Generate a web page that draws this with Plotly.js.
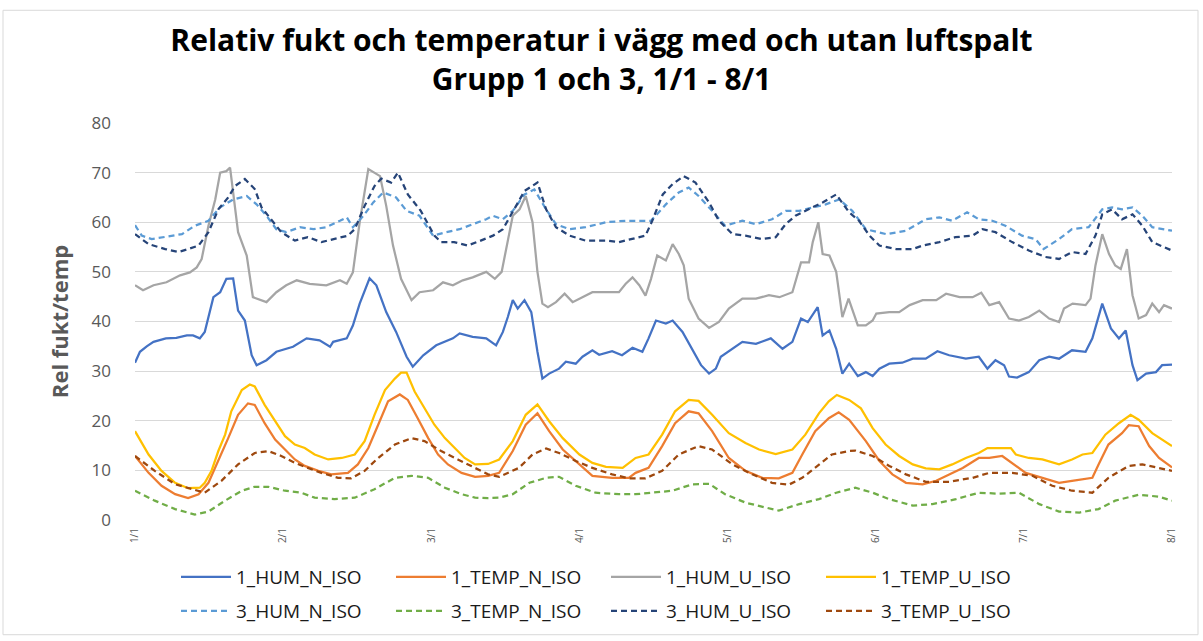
<!DOCTYPE html>
<html>
<head>
<meta charset="utf-8">
<script src="https://cdn.plot.ly/plotly-3.0.1.min.js"></script>
<style>
  html, body { margin: 0; padding: 0; background: #fff; }
  #chart { width: 1203px; height: 641px; }
</style>
</head>
<body>
<div id="chart"></div>
<script>
// x = hours since 1/1 00:00, y = value
const HUM_1_N = [[0,31.7],[0.8,33.9],[1.9,35],[3,35.9],[5,36.6],[6.7,36.7],[8.4,37.2],[9.4,37.2],[10.5,36.6],[11.3,37.9],[12.7,44.9],[13.8,45.9],[14.8,48.6],[15.9,48.7],[16.7,42.2],[17.8,40.2],[18.9,33.2],[19.7,31.2],[21.3,32.2],[22.9,33.9],[25.6,34.9],[27.8,36.6],[29.9,36.2],[31.6,34.9],[32.1,35.9],[34.3,36.6],[35.3,39.2],[36.4,43.6],[38,48.7],[39.1,47.3],[40.7,41.9],[42.3,37.9],[44,32.9],[45,30.9],[46.7,33.2],[48.8,35.2],[51.5,36.6],[52.6,37.6],[54.7,36.9],[56.9,36.6],[58.5,35.2],[59.6,37.9],[60.4,40.9],[61.2,44.3],[62,42.6],[63.1,44.3],[64.2,41.9],[65.2,33.9],[66,28.5],[67.1,29.5],[68.7,30.5],[69.8,31.9],[71.4,31.5],[72.5,32.9],[74.1,34.2],[75.2,33.3],[77.3,34],[78.9,33.2],[80.6,34.7],[82.2,33.9],[83.2,36.6],[84.4,40.2],[86,39.6],[87.1,40.2],[88.7,37.9],[90.3,34.2],[91.7,31.2],[93,29.5],[94.1,30.5],[94.9,32.9],[96.8,34.5],[98.4,35.9],[100.6,35.5],[103,36.6],[104.9,34.5],[106.5,35.9],[107.9,40.6],[109,39.9],[110.6,42.9],[111.4,37.2],[112.5,38.2],[113.6,34.5],[114.6,29.5],[115.7,31.5],[117.1,29],[118.4,29.8],[119.5,29],[120.6,30.5],[122.2,31.5],[124.3,31.7],[126,32.5],[128.1,32.5],[130,34],[131.9,33.2],[134.6,32.5],[136.7,32.9],[138.1,30.5],[139.4,32.2],[140.8,31.2],[141.6,28.9],[142.9,28.7],[144.8,29.8],[146.5,32.2],[148.1,32.9],[149.7,32.5],[151.8,34.2],[154,33.9],[155.1,36.6],[156.7,43.6],[158.1,38.6],[159.4,36.6],[160.5,38.2],[161.6,31.2],[162.4,28.2],[163.8,29.5],[165.4,29.8],[166.4,31.2],[168,31.3]];

const TEMP_1_N = [[0,12.9],[2.2,9.5],[4.3,6.9],[6.5,5.2],[8.6,4.4],[10.3,5.2],[11.9,7.5],[13.5,11.9],[15.1,16.5],[16.7,21.2],[18.3,23.5],[19.4,23.2],[21,19.5],[22.7,16.2],[24.3,14.2],[25.9,12.2],[27.5,10.9],[29.7,9.9],[31.8,9.2],[34.5,9.5],[36.1,11.2],[37.8,14.5],[39.4,19.2],[41,23.9],[42.9,25.3],[44.2,24.2],[45.8,20.5],[47.5,16.5],[49.1,13.2],[50.7,11.2],[52.9,9.5],[55.1,8.7],[57.2,8.9],[59,9.5],[61.2,13.9],[63.3,19.2],[65.2,21.5],[67.1,17.9],[69.3,14.2],[72,11.2],[74.1,8.9],[77.3,8.5],[80,8.5],[81.1,9.5],[83.2,10.5],[85.4,14.9],[87.5,19.5],[89.7,21.9],[91.3,21.5],[93.5,17.9],[96.2,12.5],[98.9,9.9],[101.6,8.5],[104.3,8.4],[106.5,9.5],[108.1,13.2],[110.2,17.9],[112.4,20.5],[114,21.7],[115.7,20.2],[118.4,15.9],[120.6,11.9],[122.7,9.2],[124.9,7.5],[127.6,7.2],[129.8,7.9],[131.4,8.9],[134.1,10.5],[136.7,12.5],[138.4,12.5],[140.5,12.9],[142.1,11.5],[144.3,9.5],[147,8.5],[149.7,7.5],[151.8,7.9],[155.1,8.5],[156.1,11.2],[157.7,15.2],[159.9,17.5],[161,19.1],[162.6,18.9],[164.3,14.9],[165.9,12.5],[168,10.6]];

const HUM_1_U = [[0,47.3],[1.3,46.3],[3,47.3],[5.1,47.9],[7.3,49.3],[8.9,49.9],[10,50.9],[10.8,52.6],[11.9,59.3],[13,64.6],[13.8,70],[14.8,70.3],[15.4,71],[16.2,63.3],[16.7,58],[18.1,53.3],[19.1,44.9],[21.3,43.9],[22.9,45.9],[24.5,47.3],[26.2,48.3],[28.3,47.6],[31,47.3],[33.2,48.3],[34.3,47.6],[35.3,49.9],[36.4,60],[37.8,70.7],[39.7,69.3],[40.7,63.3],[41.8,55.3],[43.1,48.6],[44.8,44.3],[46.1,45.9],[48.3,46.3],[49.9,47.9],[51.5,47.3],[53.1,48.3],[54.7,48.9],[56.9,50],[58.3,48.6],[59.4,50],[60.4,56.6],[61.2,61.3],[62.3,62.6],[63.3,65.3],[64.4,60],[65.2,50],[66,43.6],[66.9,42.9],[68.2,43.9],[69.6,45.6],[70.9,43.9],[72,44.6],[74.1,45.9],[76.3,45.9],[78.4,45.9],[79.5,47.6],[80.6,48.9],[81.7,47.3],[82.7,45.2],[83.6,48.6],[84.6,53.3],[86,52.3],[87.1,55.6],[88.1,53.6],[88.9,51.3],[89.7,44.6],[91.3,40.6],[93,38.7],[94.6,39.9],[96.2,42.6],[98.4,44.6],[100.6,44.6],[102.7,45.3],[104.4,44.9],[106.5,45.9],[107.9,51.9],[109.2,51.9],[109.8,56],[110.7,60],[111.4,53.6],[112.5,53.3],[113.6,50],[114.6,40.9],[115.6,44.6],[117.1,39.2],[118.4,39.2],[119.5,40.2],[120.1,41.6],[122.2,41.9],[123.8,41.9],[125.5,43.3],[127.6,44.3],[129.8,44.3],[131.4,45.6],[133.6,44.9],[135.7,44.9],[137.1,45.8],[138.4,43.3],[140,43.9],[141.6,40.6],[143.2,40.2],[144.8,40.9],[146.5,42.2],[148.1,40.6],[149.7,39.9],[150.5,42.6],[151.9,43.6],[154,43.3],[154.8,44.6],[155.6,51.3],[156.7,57.6],[157.8,53.6],[158.8,51.3],[159.7,50.6],[160.7,54.6],[161.6,45.3],[162.6,40.6],[163.8,41.3],[164.8,43.6],[165.9,41.9],[166.7,43.3],[168,42.6]];

const TEMP_1_U = [[0,17.9],[2.2,13.2],[4.3,9.9],[6.5,7.5],[8.6,6.4],[10.5,6.5],[11.3,7.5],[12.4,9.9],[13.5,13.9],[14.6,17.2],[15.6,21.9],[17.3,26.2],[18.6,27.3],[19.4,26.9],[21,23.2],[22.7,19.9],[24.3,16.9],[25.9,15.2],[27.5,14.5],[29.1,13.2],[31.3,12.2],[33.5,12.5],[35.6,13.2],[37.2,15.9],[38.8,21.2],[40.5,26.2],[42.1,28.5],[43.1,29.7],[44,29.7],[45.3,25.9],[46.9,22.5],[48.5,19.2],[50.2,16.5],[51.8,14.5],[53.4,12.5],[55.1,11.2],[57.2,11.3],[59,12.2],[61.2,15.9],[63.3,21.2],[65.2,23.3],[67.1,19.9],[69.3,16.5],[72,13.2],[74.1,11.5],[76.3,10.7],[79,10.5],[81.1,12.5],[83.2,13.2],[85.4,17.2],[87.5,21.9],[89.7,24.2],[91.3,24],[93.5,21.2],[96.2,17.5],[98.9,15.5],[101.1,14.2],[103.8,13.3],[106.5,14.2],[108.6,17.2],[110.8,21.5],[112.4,23.9],[113.7,25.2],[115.7,24.2],[117.6,22.5],[119.5,18.5],[121.6,15.2],[123.8,12.9],[126,11.2],[128.1,10.4],[130.3,10.2],[132.4,11.2],[134.6,12.5],[136.7,13.5],[138.1,14.5],[139.9,14.5],[141.9,14.5],[142.7,13.2],[144.8,12.5],[147,12.2],[149.7,11.2],[151.8,12.2],[153.5,13.2],[155.1,13.5],[157.2,17.2],[159.4,19.5],[161.3,21.2],[162.6,20.2],[164.8,17.5],[168,14.9]];

const HUM_3_N = [[0,59.4],[1.1,57.3],[2.7,56.6],[4.9,57],[7.6,57.6],[9.7,59.3],[11.9,60.3],[13.8,63],[15.9,64.6],[18.1,65.3],[19.7,63.6],[21.3,61.3],[22.9,58.6],[24.5,58],[26.7,59],[28.9,58.6],[31,59],[33.2,60.3],[34.3,61],[35.3,59],[37,61.3],[38.6,64],[40.2,66],[42.3,65],[44,62.3],[46.1,61.3],[48.3,57.3],[50.4,58],[52.6,58.6],[54.7,59.6],[56.9,60.6],[58,61.3],[59.6,60.6],[61.2,62.3],[63.1,65.6],[64.7,66.6],[66.6,62.6],[68.2,59.6],[70.4,58.6],[73,59],[76.3,60],[79.5,60.3],[81.7,60.3],[83.6,60.3],[86,63.6],[88.1,66],[89.7,67],[91.3,65.3],[93.5,62.3],[95.6,59.3],[98.4,60.3],[100.6,59.6],[103.2,60.6],[105.4,62.3],[107.6,62.3],[109.8,63],[111.9,63.6],[114.1,64.6],[116.2,62.3],[118.4,58.6],[121.7,57.6],[124.9,58.3],[128.1,60.6],[130.3,61],[132.4,60.3],[134.8,62],[136.7,60.6],[138.9,60.3],[141,59.3],[143.7,57.3],[145.9,56.6],[147.2,54.6],[149.7,56.6],[151.8,58.6],[154.5,59],[156.7,62.6],[158.3,63],[159.9,62.6],[161.6,63],[163.2,61.3],[164.8,59],[168,58.3]];

const TEMP_3_N = [[0,5.9],[3.2,3.9],[6.5,2.2],[9.7,1.1],[11.9,1.7],[14.6,3.9],[17.3,5.9],[19.4,6.7],[21.6,6.7],[24.3,5.9],[26.9,5.5],[29.1,4.5],[32.3,4.2],[35.6,4.5],[38.8,6.2],[42.1,8.5],[44.8,8.9],[47.5,8.5],[50.2,6.5],[52.9,5.2],[55.1,4.5],[57.2,4.4],[59,4.5],[61.2,5.2],[63.9,7.5],[66.6,8.5],[68.7,8.7],[71.4,6.9],[74.6,5.5],[78.4,5.2],[81.1,5.2],[83.8,5.5],[87.1,5.9],[90.3,7.2],[93,7.3],[95.6,5.2],[98.9,3.5],[102.2,2.5],[104.3,1.9],[107.6,3.2],[110.8,4.2],[113.6,5.5],[116.7,6.5],[119.5,5.5],[122.2,4.2],[126,2.9],[129.2,3.2],[133,4.2],[136.7,5.5],[140,5.3],[143.2,5.5],[146.5,3.2],[149.7,1.7],[153,1.5],[156.1,2.2],[158.8,3.9],[162.6,5.1],[165.9,4.7],[168,3.9]];

const HUM_3_U = [[0,57.6],[2.2,55.6],[4.9,54.6],[7,54],[8.6,54.6],[10.3,55.3],[11.9,58],[13.5,62.6],[15.1,65],[16.2,67.3],[17.8,68.7],[19.4,66.7],[20.5,63],[22.1,60.6],[23.7,58],[25.9,56.3],[28,57],[30.2,56],[32.3,56.6],[34.5,57.3],[35.6,58.6],[37.2,63.3],[38.8,67.3],[39.9,68.8],[41.5,68],[42.6,70],[44.2,65.6],[46.3,62.3],[48.5,57.3],[49.6,56],[51.7,56],[53.9,55.3],[56,56.3],[58,57.3],[59.6,58.6],[61.2,62],[63.1,66.3],[65.2,68],[66.6,62.6],[68.2,59],[70.4,57.3],[73,56.3],[76.3,56.3],[78.4,56],[80.6,56.6],[82.7,57.3],[83.8,60.3],[85.5,65.6],[87.1,67.7],[88.9,69.3],[90.8,68],[93,64],[94.6,60.3],[96.8,57.6],[98.9,57.3],[101.6,56.6],[103.8,57],[105.4,59.6],[107,61.3],[109.2,62.6],[111.4,64],[113.6,65.6],[115.7,62],[117.3,60.3],[119,57.3],[120.6,55.3],[123.3,54.6],[126,54.6],[127.6,55.3],[130.3,56],[132.9,57],[135.7,57.3],[137.3,58.6],[139.4,58],[142.1,56],[144.8,54.3],[147.5,53],[149.7,52.6],[151.8,54],[154,53.6],[155.6,57.3],[156.7,61.6],[158.3,62.6],[159.9,60.6],[161.6,61.6],[163.2,59.3],[164.8,56],[168,54.3]];

const TEMP_3_U = [[0,12.9],[3.2,9.9],[6.5,7.2],[8.6,6.5],[11.3,5.5],[14,7.9],[16.7,11.2],[19.4,13.5],[21.6,13.9],[23.7,12.9],[25.9,11.5],[28,10.5],[30.2,9.5],[32.9,8.5],[35,8.4],[37.2,9.9],[39.4,12.5],[42.1,15.2],[44.8,16.5],[46.9,15.9],[49.6,13.9],[52.3,12.2],[54.5,10.9],[57.2,9.2],[59,8.7],[62.2,10.5],[64.4,13.2],[66.6,14.4],[68.7,13.5],[71.4,11.9],[74.1,10.5],[77.3,9.2],[80,8.4],[82.7,8.4],[85.4,9.9],[88.1,13.2],[91.3,14.9],[93.5,14.2],[96.8,11.2],[100,9.2],[103.2,7.5],[105.9,7.1],[108.1,8.5],[110.2,10.5],[112.9,13.2],[115.7,13.9],[116.7,14],[119.5,12.9],[122.2,10.9],[124.9,9.2],[128.1,7.7],[131.9,7.7],[135.7,8.5],[138.4,9.5],[142.1,9.5],[145.4,8.9],[148.6,6.9],[151.8,5.9],[155.1,5.5],[157.7,8.5],[161,10.9],[163.2,11.2],[165.9,10.5],[168,9.9]];

const SERIES_NAMES = ['1_HUM_N_ISO','1_TEMP_N_ISO','1_HUM_U_ISO','1_TEMP_U_ISO','3_HUM_N_ISO','3_TEMP_N_ISO','3_HUM_U_ISO','3_TEMP_U_ISO'];
const TICK_HOURS = [0,24,48,72,96,120,144,168];
const TICK_LABELS = ['1/1','2/1','3/1','4/1','5/1','6/1','7/1','8/1'];

const seriesData = [HUM_1_N, TEMP_1_N, HUM_1_U, TEMP_1_U, HUM_3_N, TEMP_3_N, HUM_3_U, TEMP_3_U];
const colors = ['#4472C4','#ED7D31','#A5A5A5','#FFC000','#5B9BD5','#70AD47','#264478','#9E480E'];
const dashes = ['solid','solid','solid','solid','6px,4px','6px,4px','6px,4px','6px,4px'];

const traces = seriesData.map((s, i) => ({
  type: 'scatter',
  mode: 'lines',
  name: SERIES_NAMES[i],
  legend: i < 4 ? 'legend' : 'legend2',
  x: s.map(p => p[0]),
  y: s.map(p => p[1]),
  line: { color: colors[i], width: 2.25, dash: dashes[i] },
  hoverinfo: 'skip'
}));

const L = 135, R = 1172, T = 123, B = 521;
const py = px => (B - px) / (B - T);
const pxX = px => (px - L) / (R - L);

const legendCommon = {
  orientation: 'h',
  x: pxX(176), xanchor: 'left',
  yanchor: 'middle',
  font: { family: 'Open Sans, sans-serif', size: 19, color: '#1a1a1a' },
  itemwidth: 50,
  entrywidth: 150,
  bgcolor: 'rgba(0,0,0,0)'
};

const layout = {
  width: 1203, height: 641,
  margin: { l: L, r: 1203 - R, t: T, b: 641 - B, pad: 0 },
  paper_bgcolor: '#ffffff',
  plot_bgcolor: '#ffffff',
  font: { family: 'Open Sans, sans-serif', color: '#595959' },
  title: {
    text: '<b>Relativ fukt och temperatur i vägg med och utan luftspalt</b><br><b>Grupp 1 och 3, 1/1 - 8/1</b>',
    font: { family: 'Open Sans, sans-serif', size: 30, color: '#000000' },
    x: 0.5, xref: 'container', xanchor: 'center',
    y: 0.92, yref: 'container', yanchor: 'top'
  },
  xaxis: {
    range: [0, 168],
    tickmode: 'array',
    tickvals: TICK_HOURS,
    ticktext: TICK_LABELS,
    tickangle: -90,
    tickfont: { size: 10, color: '#595959' },
    ticklabelstandoff: 5,
    showgrid: false,
    zeroline: false,
    showline: false,
    ticks: '',
    fixedrange: true
  },
  yaxis: {
    range: [0, 80],
    tick0: 0, dtick: 10,
    tickfont: { size: 17, color: '#595959' },
    showgrid: true, gridcolor: '#d9d9d9', gridwidth: 1,
    zeroline: false, showline: false, ticks: '',
    ticklabelstandoff: 23,
    title: { text: '<b>Rel fukt/temp</b>', font: { size: 22, color: '#595959' }, standoff: 16 },
    fixedrange: true
  },
  showlegend: true,
  legend: Object.assign({}, legendCommon, { y: py(577) }),
  legend2: Object.assign({}, legendCommon, { y: py(611) }),
  shapes: [{
    type: 'rect', xref: 'paper', yref: 'paper',
    x0: pxX(3), x1: pxX(1198),
    y0: py(636), y1: py(10),
    line: { color: '#d9d9d9', width: 1 }, fillcolor: 'rgba(0,0,0,0)', layer: 'below'
  }]
};

Plotly.newPlot('chart', traces, layout, { displayModeBar: false, staticPlot: true });
</script>
</body>
</html>
